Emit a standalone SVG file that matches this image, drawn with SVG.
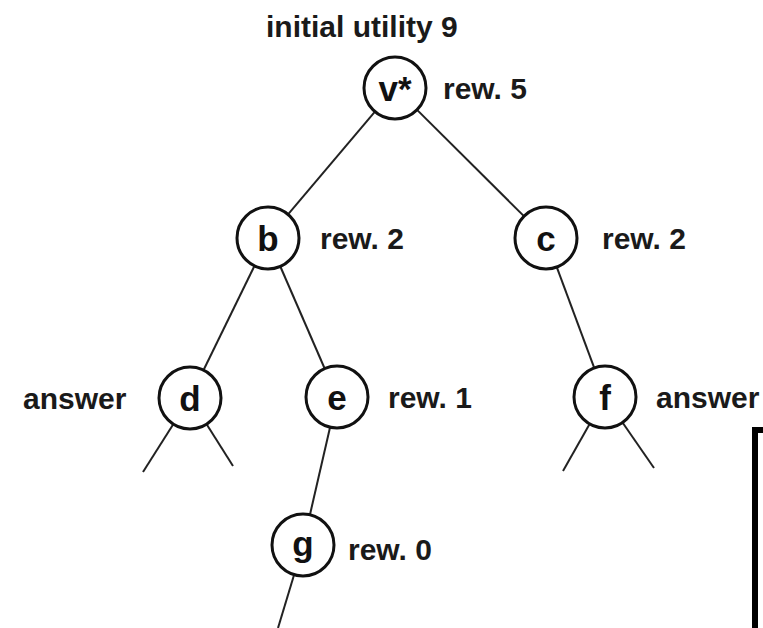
<svg xmlns="http://www.w3.org/2000/svg" width="763" height="628" viewBox="0 0 763 628">
<style>
.node{fill:#fff;stroke:#111;stroke-width:3}
.edge{stroke:#222;stroke-width:2;fill:none}
.t{font-family:"Liberation Sans",Arial,sans-serif;font-weight:bold;font-size:30px;fill:#1a1a1a}
.n{font-family:"Liberation Sans",Arial,sans-serif;font-weight:bold;font-size:35px;fill:#111;text-anchor:middle}
</style>
<rect width="763" height="628" fill="#fff"/>
<g id="connectors">
<line class="edge" x1="375.6" y1="110.9" x2="287.4" y2="215.1"/>
<line class="edge" x1="416.3" y1="109.1" x2="524.7" y2="216.9"/>
<line class="edge" x1="254.9" y1="265" x2="203.1" y2="371"/>
<line class="edge" x1="279.9" y1="265.5" x2="325.1" y2="369.5"/>
<line class="edge" x1="556.4" y1="266.1" x2="594.6" y2="368.9"/>
<line class="edge" x1="330.3" y1="426.2" x2="309.7" y2="515.8"/>
<line class="edge" x1="294.4" y1="573.7" x2="278" y2="628"/>
<line class="edge" x1="173.9" y1="423.3" x2="143" y2="472"/>
<line class="edge" x1="206" y1="423.3" x2="233" y2="466"/>
<line class="edge" x1="590.2" y1="423.1" x2="563" y2="471"/>
<line class="edge" x1="622" y1="421.7" x2="654" y2="468"/>
</g>
<text class="t" x="266" y="37">initial utility 9</text>
<g id="node-v">
<circle class="node" cx="395" cy="88" r="31"/>
<text class="n" x="395" y="101">v*</text>
<text class="t" x="443" y="99">rew. 5</text>
</g>
<g id="node-b">
<circle class="node" cx="268" cy="238" r="31"/>
<text class="n" x="268" y="251">b</text>
<text class="t" x="320" y="249">rew. 2</text>
</g>
<g id="node-c">
<circle class="node" cx="546" cy="238" r="31"/>
<text class="n" x="546" y="251">c</text>
<text class="t" x="602" y="249">rew. 2</text>
</g>
<g id="node-d">
<circle class="node" cx="190" cy="398" r="31"/>
<text class="n" x="190" y="411">d</text>
<text class="t" x="23" y="409">answer</text>
</g>
<g id="node-e">
<circle class="node" cx="337" cy="397" r="31"/>
<text class="n" x="337" y="410">e</text>
<text class="t" x="388" y="408">rew. 1</text>
</g>
<g id="node-f">
<circle class="node" cx="605" cy="397" r="31"/>
<text class="n" x="605" y="410">f</text>
<text class="t" x="656" y="408">answer</text>
</g>
<g id="node-g">
<circle class="node" cx="303" cy="545" r="31"/>
<text class="n" x="303" y="556">g</text>
<text class="t" x="348" y="560">rew. 0</text>
</g>
<path d="M755,640 V430 H770" fill="none" stroke="#000" stroke-width="6"/>
</svg>
